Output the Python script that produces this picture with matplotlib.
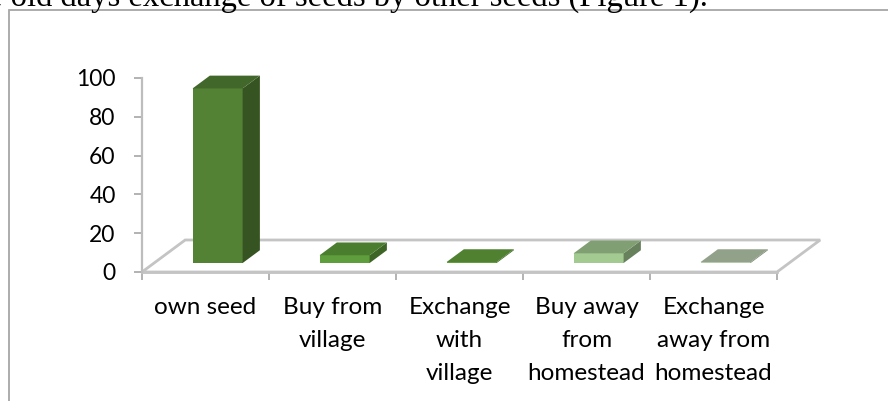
"""
3-D style column chart: source of seed (Excel-like look, drawn in 2-D).
"""
import matplotlib
matplotlib.use("Agg")
import matplotlib.pyplot as plt
from matplotlib.patches import Polygon, Rectangle
from matplotlib.colors import to_rgb

# --- data -------------------------------------------------------------
categories = [
    "own seed",
    "Buy from\nvillage",
    "Exchange\nwith\nvillage",
    "Buy away\nfrom\nhomestead",
    "Exchange\naway from\nhomestead",
]
values = [90, 4, 0.5, 5, 0.5]
y_ticks = [0, 20, 40, 60, 80, 100]

# one base colour per bar (Excel "vary colours by point", green shades)
bar_colors = ["#548235", "#5f9e3c", "#64a33e", "#a2ca91", "#b9cdaf"]

caption = "e old days exchange of seeds by other seeds (Figure 1)."

# --- oblique projection settings (data units) -------------------------
DEPTH_X = 0.34     # category units for full floor depth
DEPTH_Y = 16.5     # value units for full floor depth
BAR_FRONT, BAR_BACK = 0.28, 0.68
BAR_HALF = 0.197
EDGE = "#c4c4c4"


def shade(color, k):
    r, g, b = to_rgb(color)
    return (r * k, g * k, b * k)


def off(x, y, d):
    return (x + d * DEPTH_X, y + d * DEPTH_Y)


W, H = 888, 401
fig = plt.figure(figsize=(W / 100, H / 100), dpi=100)
plt.rcParams["font.family"] = ["Lato", "DejaVu Sans"]

# chart area border (runs off the right / bottom of the picture)
fig.patches.append(Rectangle((8.5 / W, -0.1), 1.2, 1.1 - 9.5 / H,
                             transform=fig.transFigure, fill=False,
                             edgecolor="#a6a6a6", linewidth=1.3))

fig.text(708 / W, 1 - 6 / H, caption, ha="right", va="baseline",
         family="Liberation Serif", fontsize=23.5, color="black")

ax = fig.add_axes([142 / W, (H - 272) / H, (777 - 142) / W, (272 - 78) / H])
n = len(categories)
ax.set_xlim(0, n)
ax.set_ylim(0, 100)
ax.patch.set_alpha(0)

# floor
floor = [off(0, 0, 0), off(n, 0, 0), off(n, 0, 1), off(0, 0, 1)]
ax.add_patch(Polygon(floor, closed=True, facecolor="white", edgecolor=EDGE,
                     linewidth=2, clip_on=False, zorder=1))

# bars
for i, (v, c) in enumerate(zip(values, bar_colors)):
    x0, x1 = i + 0.5 - BAR_HALF, i + 0.5 + BAR_HALF
    front = [off(x0, 0, BAR_FRONT), off(x1, 0, BAR_FRONT),
             off(x1, v, BAR_FRONT), off(x0, v, BAR_FRONT)]
    side = [off(x1, 0, BAR_FRONT), off(x1, 0, BAR_BACK),
            off(x1, v, BAR_BACK), off(x1, v, BAR_FRONT)]
    top = [off(x0, v, BAR_FRONT), off(x1, v, BAR_FRONT),
           off(x1, v, BAR_BACK), off(x0, v, BAR_BACK)]
    for poly, k in ((front, 1.0), (side, 0.64), (top, 0.79)):
        ax.add_patch(Polygon(poly, closed=True, facecolor=shade(c, k),
                             edgecolor="none", clip_on=False, zorder=3))

# axes styling
for s in ("top", "right"):
    ax.spines[s].set_visible(False)
ax.spines["left"].set_color("#bdbdbd")
ax.spines["left"].set_linewidth(1.6)
ax.spines["bottom"].set_color(EDGE)
ax.spines["bottom"].set_linewidth(2)
ax.spines["bottom"].set_zorder(2)

ax.set_yticks(y_ticks)
ax.tick_params(axis="y", direction="out", length=6, width=1.2,
               color="#a6a6a6", pad=13, labelsize=16.5)
ax.set_xticks(range(n + 1))
ax.set_xticklabels([])
ax.tick_params(axis="x", which="major", direction="out", length=6,
               width=1.2, color="#a6a6a6")
ax.set_xticks([i + 0.5 for i in range(n)], minor=True)
ax.set_xticklabels(categories, minor=True, fontsize=17.5, linespacing=1.7)
ax.tick_params(axis="x", which="minor", length=0, pad=18)

fig.savefig("out.png", dpi=100)
